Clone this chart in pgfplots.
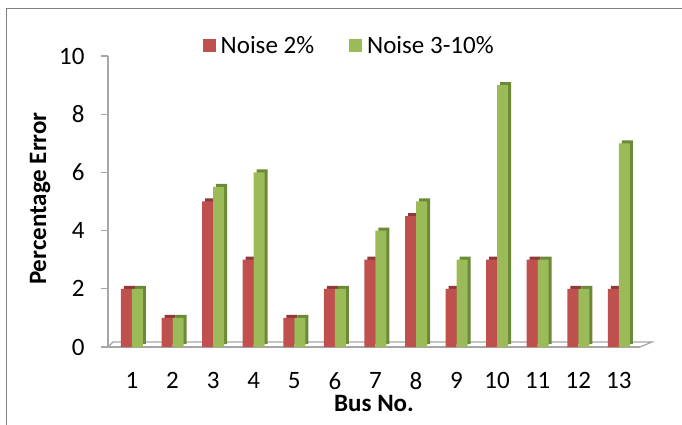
\documentclass[border=0pt]{standalone}
\usepackage{fontspec}
\setmainfont{Carlito}
\usepackage{pgfplots}
\pgfplotsset{compat=1.18}

\definecolor{redfront}{HTML}{C0504D}
\definecolor{redside}{HTML}{8E3A38}
\definecolor{grnfront}{HTML}{9BBB59}
\definecolor{grnside}{HTML}{6B8A37}
\definecolor{axgray}{HTML}{A6A6A6}

\begin{document}
\begin{tikzpicture}
\begin{axis}[
    scale only axis,
    width=532bp, height=291bp,
    xmin=0.41, xmax=13.52,
    ymin=0, ymax=10,
    ytick={0,2,...,10},
    xtick={1,...,13},
    axis y line*=left,
    axis x line*=bottom,
    axis line style={axgray, line width=1.2pt},
    y axis line style={-},
    x axis line style={-},
    tick align=outside,
    ytick style={axgray, line width=1.2pt},
    major tick length=7bp,
    xtick style={draw=none},
    /pgf/number format/assume math mode=true,
    ticklabel style={font=\fontsize{25bp}{29bp}\selectfont},
    xticklabel style={yshift=-15bp},
    yticklabel style={xshift=-13bp},
    xlabel={\textbf{Bus No.}},
    ylabel={\textbf{Percentage Error}},
    label style={font=\fontsize{25bp}{29bp}\selectfont},
    xlabel style={at={(rel axis cs:0.5,0)}, anchor=north, yshift=-45bp},
    ylabel style={at={(rel axis cs:0,0.5)}, anchor=south, yshift=54bp, xshift=3bp},
    legend columns=2,
    legend style={draw=none, fill=none, at={(rel axis cs:0.172,1.034)}, anchor=west,
        font=\fontsize{25bp}{29bp}\selectfont,
        nodes={inner xsep=5bp},
        /tikz/every even column/.append style={column sep=30bp}},
    legend image code/.code={\fill[#1] (0bp,-6bp) rectangle (13bp,7bp);},
    clip=false,
]
\coordinate (O) at (rel axis cs:0,0);
% floor of the 3D plot area
\draw[axgray, line width=1.2pt] (rel axis cs:0,0) -- ++(5bp,5bp) -- ([xshift=12bp,yshift=5bp]rel axis cs:1,0) -- (rel axis cs:1,0);

% Noise 2% (red)
\addplot[ybar, bar width=11bp, bar shift=-2.5bp, fill=redside, draw=none, yshift=3bp, forget plot]
  coordinates {(1,2) (2,1) (3,5) (4,3) (5,1) (6,2) (7,3) (8,4.5) (9,2) (10,3) (11,3) (12,2) (13,2)};
\addplot[ybar, bar width=11bp, bar shift=-5.5bp, fill=redfront, draw=none]
  coordinates {(1,2) (2,1) (3,5) (4,3) (5,1) (6,2) (7,3) (8,4.5) (9,2) (10,3) (11,3) (12,2) (13,2)};
% Noise 3-10% (green)
\addplot[ybar, bar width=11bp, bar shift=8.5bp, fill=grnside, draw=none, yshift=3bp, forget plot]
  coordinates {(1,2) (2,1) (3,5.5) (4,6) (5,1) (6,2) (7,4) (8,5) (9,3) (10,9) (11,3) (12,2) (13,7)};
\addplot[ybar, bar width=11bp, bar shift=5.5bp, fill=grnfront, draw=none]
  coordinates {(1,2) (2,1) (3,5.5) (4,6) (5,1) (6,2) (7,4) (8,5) (9,3) (10,9) (11,3) (12,2) (13,7)};
\legend{Noise 2\%, Noise 3-10\%}
\end{axis}
% picture frame and bounding box
\pgfresetboundingbox
\useasboundingbox ([xshift=-108bp,yshift=-78bp]O) rectangle ([xshift=574bp,yshift=347bp]O);
\draw[gray, line width=0.8pt] ([xshift=-102bp,yshift=-80bp]O) |- ([xshift=580bp,yshift=339bp]O);
\end{tikzpicture}
\end{document}
